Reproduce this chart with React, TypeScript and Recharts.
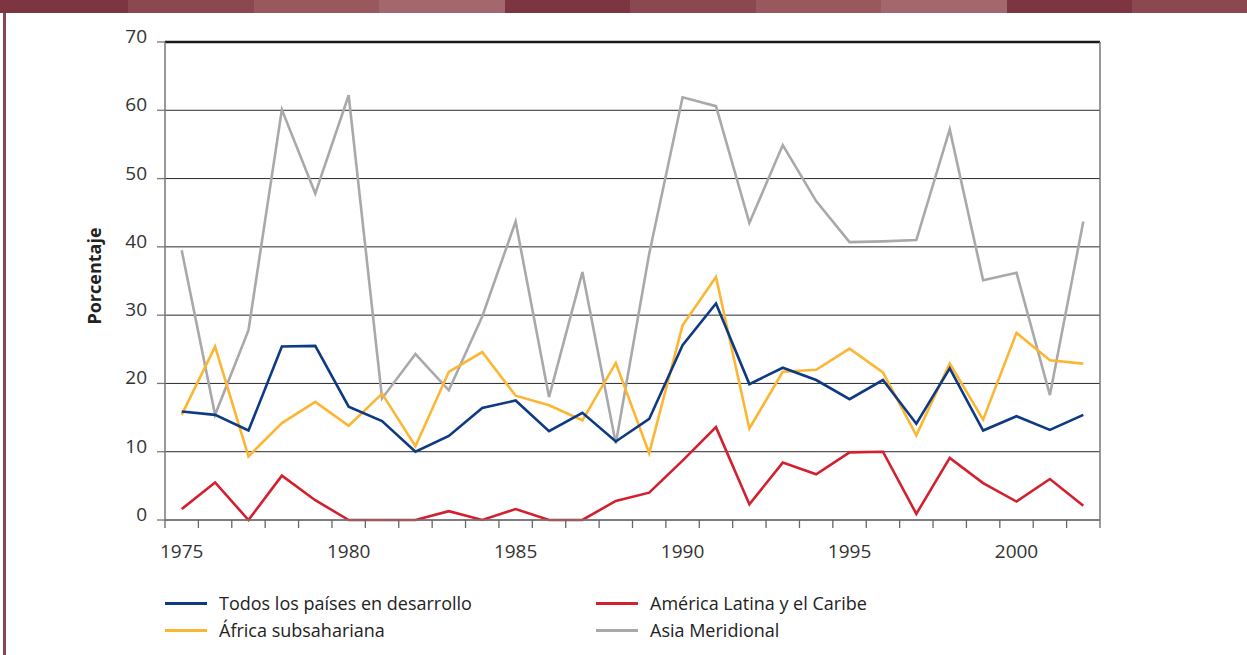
import React from 'react';
import {
  LineChart,
  Line,
  XAxis,
  YAxis,
  CartesianGrid,
  ReferenceLine,
} from 'recharts';

const years = [
  1975, 1976, 1977, 1978, 1979, 1980, 1981, 1982, 1983, 1984, 1985, 1986, 1987, 1988,
  1989, 1990, 1991, 1992, 1993, 1994, 1995, 1996, 1997, 1998, 1999, 2000, 2001, 2002,
];

const todos = [
  15.9, 15.4, 13.1, 25.4, 25.5, 16.6, 14.5, 10.0, 12.3, 16.4, 17.5, 13.0, 15.7, 11.5,
  14.8, 25.6, 31.7, 19.9, 22.3, 20.5, 17.7, 20.5, 14.1, 22.2, 13.1, 15.2, 13.2, 15.4,
];

const america = [
  1.6, 5.5, 0, 6.5, 2.9, 0, 0, 0, 1.3, 0, 1.6, 0, 0, 2.8,
  4.0, 8.7, 13.6, 2.3, 8.4, 6.7, 9.9, 10.0, 0.9, 9.1, 5.4, 2.7, 6.0, 2.1,
];

const africa = [
  15.4, 25.4, 9.3, 14.2, 17.3, 13.8, 18.5, 10.8, 21.7, 24.6, 18.2, 16.8, 14.6, 23.0,
  9.8, 28.5, 35.6, 13.4, 21.7, 22.0, 25.1, 21.6, 12.4, 22.9, 14.7, 27.4, 23.4, 22.9,
];

const asia = [
  39.5, 15.4, 27.8, 60.1, 47.8, 62.2, 17.8, 24.3, 19.0, 29.8, 43.7, 18.0, 36.3, 11.2,
  39.0, 61.9, 60.6, 43.5, 54.9, 46.7, 40.7, 40.8, 41.0, 57.2, 35.1, 36.2, 18.3, 43.7,
];

const yearLabels = [1975, 1980, 1985, 1990, 1995, 2000];
const yTicks = [0, 10, 20, 30, 40, 50, 60, 70];

const series = [
  { key: 'america', name: 'América Latina y el Caribe', color: '#d2202e' },
  { key: 'asia', name: 'Asia Meridional', color: '#a9a9ab' },
  { key: 'africa', name: 'África subsahariana', color: '#fbb634' },
  { key: 'todos', name: 'Todos los países en desarrollo', color: '#0e3a84' },
];

const legendOrder = ['todos', 'america', 'africa', 'asia'];

const bandColors = ['#7d3541', '#8b4850', '#98585e', '#a3686d'];

const data = years.map((year, i) => ({
  year,
  todos: todos[i],
  america: america[i],
  africa: africa[i],
  asia: asia[i],
}));

const boundaries = [...years.map((y) => y - 0.5), years[years.length - 1] + 0.5];
const xTicks = [...boundaries, ...yearLabels].sort((a, b) => a - b);

const FONT = '"Open Sans", "Noto Sans", sans-serif';

const XTick = (props: any) => {
  const { x, y, payload } = props;
  const v = payload.value as number;
  if (v % 1 !== 0) {
    return <line x1={x} x2={x} y1={y} y2={y + 8} stroke="#666" strokeWidth={1.3} />;
  }
  return (
    <text x={x} y={y + 38} textAnchor="middle" fill="#333" fontSize={19} fontFamily={FONT}>
      {v}
    </text>
  );
};

const YTick = (props: any) => {
  const { x, y, payload } = props;
  return (
    <text x={x} y={y + 1} textAnchor="end" fill="#333" fontSize={19} fontFamily={FONT}>
      {payload.value}
    </text>
  );
};

const YLabel = (props: any) => {
  const { viewBox } = props;
  const cx = viewBox.x + 16;
  const cy = viewBox.y + viewBox.height / 2 - 5;
  return (
    <text
      transform={`translate(${cx}, ${cy}) rotate(-90)`}
      textAnchor="middle"
      fill="#222"
      fontSize={18}
      fontWeight={700}
      fontFamily={FONT}
    >
      Porcentaje
    </text>
  );
};

export default function App() {
  const byKey = Object.fromEntries(series.map((s) => [s.key, s]));
  return (
    <div
      style={{
        position: 'absolute',
        left: 0,
        top: 0,
        width: 1247,
        height: 655,
        background: '#fff',
        overflow: 'hidden',
        fontFamily: FONT,
      }}
    >
      <div style={{ display: 'flex', height: 13 }}>
        {Array.from({ length: 10 }).map((_, i) => (
          <div
            key={i}
            style={{
              flex: i === 0 ? '0 0 128px' : i === 9 ? '1 1 auto' : '0 0 125.5px',
              background: bandColors[i % 4],
            }}
          />
        ))}
      </div>
      <div
        style={{
          position: 'absolute',
          left: 3,
          top: 13,
          width: 3,
          bottom: 0,
          background: '#8b4652',
        }}
      />
      <div style={{ position: 'absolute', left: 0, top: 0 }}>
        <LineChart
          width={1247}
          height={655}
          data={data}
          margin={{ top: 42, right: 147, bottom: 105, left: 85 }}
        >
          <CartesianGrid vertical={false} stroke="#2a2a2a" strokeWidth={1} />
          <XAxis
            dataKey="year"
            type="number"
            domain={[boundaries[0], boundaries[boundaries.length - 1]]}
            ticks={xTicks}
            interval={0}
            height={30}
            tickSize={0}
            tickMargin={0}
            tickLine={false}
            axisLine={{ stroke: '#777', strokeWidth: 1.5 }}
            tick={<XTick />}
          />
          <YAxis
            type="number"
            domain={[0, 70]}
            ticks={yTicks}
            interval={0}
            width={80}
            tickSize={8}
            tickMargin={10}
            tickLine={{ stroke: '#777', strokeWidth: 1.3 }}
            axisLine={{ stroke: '#777', strokeWidth: 1.5 }}
            tick={<YTick />}
            label={<YLabel />}
          />
          <ReferenceLine y={70} stroke="#1a1a1a" strokeWidth={2.5} />
          <ReferenceLine x={boundaries[boundaries.length - 1]} stroke="#777" strokeWidth={1.5} />
          {series.map((s) => (
            <Line
              key={s.key}
              type="linear"
              dataKey={s.key}
              name={s.name}
              stroke={s.color}
              strokeWidth={2.6}
              dot={false}
              activeDot={false}
              isAnimationActive={false}
            />
          ))}
        </LineChart>
      </div>
      <div
        style={{
          position: 'absolute',
          left: 165,
          top: 592,
          display: 'grid',
          gridTemplateColumns: '431px 300px',
          rowGap: 4,
          fontSize: 18,
          color: '#222',
          lineHeight: '23px',
        }}
      >
        {legendOrder.map((k) => (
          <div key={k} style={{ display: 'flex', alignItems: 'center' }}>
            <div style={{ width: 42, height: 3, background: byKey[k].color, marginRight: 12 }} />
            <span>{byKey[k].name}</span>
          </div>
        ))}
      </div>
    </div>
  );
}
